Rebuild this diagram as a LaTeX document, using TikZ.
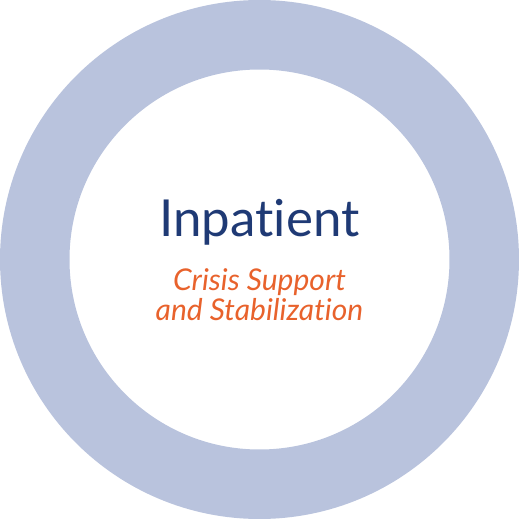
\documentclass[tikz,border=0pt]{standalone}
\usepackage{fontspec}
\setmainfont{Lato}[Ligatures=NoCommon]
\usepackage{tikz}
\definecolor{ringblue}{HTML}{B9C3DD}
\definecolor{titleblue}{HTML}{1F3A75}
\definecolor{suborange}{HTML}{E8622C}
\tikzstyle{ring}=[draw=ringblue, line width=69.5pt]
\tikzstyle{title}=[anchor=base, inner sep=0pt, text=titleblue, font=\fontsize{51}{60}\selectfont]
\tikzstyle{sub}=[anchor=base, inner sep=0pt, text=suborange, font=\itshape\fontsize{30}{34}\selectfont]

\begin{document}
\begin{tikzpicture}[x=1pt, y=1pt]
\useasboundingbox (-259.5,-259.5) rectangle (259.5,259.5);
\coordinate (centre) at (0,0);
\draw[ring] (centre) circle (224.75);
\node[title] (inpatient) at (0,22.5) {Inpatient};
\node[sub] (crisis) at (0,-30.5) {Crisis Support};
\node[sub] (stab) at (0,-60.5) {and Stabilization};
\end{tikzpicture}
\end{document}
